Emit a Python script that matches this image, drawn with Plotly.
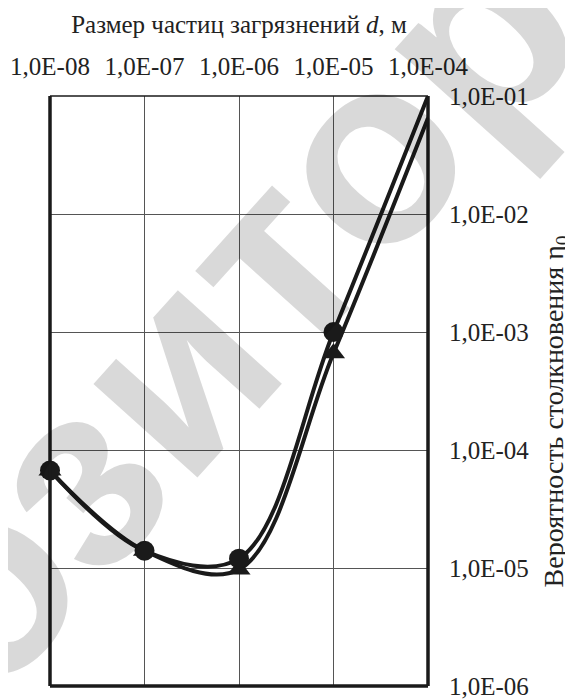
import plotly.graph_objects as go

# Data
particle_size = [1e-8, 1e-7, 1e-6, 1e-5, 1e-4]
eta_circles = [6.7e-5, 1.4e-5, 1.2e-5, 1.0e-3, 1.0e-1]
eta_triangles = [6.7e-5, 1.4e-5, 9.7e-6, 6.6e-4, 6.5e-2]

x_tickvals = [1e-8, 1e-7, 1e-6, 1e-5, 1e-4]
x_ticktext = ["1,0E-08", "1,0E-07", "1,0E-06", "1,0E-05", "1,0E-04"]
y_tickvals = [1e-6, 1e-5, 1e-4, 1e-3, 1e-2, 1e-1]
y_ticktext = ["1,0E-06", "1,0E-05", "1,0E-04", "1,0E-03", "1,0E-02", "1,0E-01"]

serif = "Liberation Serif, Times New Roman, serif"
ink = "#1a1a1a"
txt = "#222222"

fig = go.Figure()
fig.add_trace(go.Scatter(
    x=particle_size, y=eta_triangles, mode="lines+markers",
    line=dict(color=ink, width=4, shape="spline"),
    marker=dict(symbol="triangle-up", size=20, color=ink),
    cliponaxis=False, showlegend=False))
fig.add_trace(go.Scatter(
    x=particle_size, y=eta_circles, mode="lines+markers",
    line=dict(color=ink, width=4, shape="spline"),
    marker=dict(symbol="circle", size=20, color=ink),
    cliponaxis=False, showlegend=False))

# page body has an 8px default margin, so the figure is 8px smaller than the window
fig.update_layout(
    width=565, height=692,
    margin=dict(l=42, r=145, t=88, b=14),
    paper_bgcolor="white", plot_bgcolor="white",
    font=dict(family=serif, color=txt, size=24),
    xaxis=dict(
        type="log", range=[-8, -4], side="top", automargin=False,
        tickvals=x_tickvals, ticktext=x_ticktext,
        showgrid=True, gridcolor="#555555", gridwidth=1,
        zeroline=False, showline=False, ticks="", ticklabelstandoff=15,
        tickfont=dict(family=serif, size=25, color=txt),
        title=dict(text="Размер частиц загрязнений <i>d</i>, м",
                   font=dict(family=serif, size=25, color=txt),
                   standoff=12),
    ),
    yaxis=dict(
        type="log", range=[-6, -1], side="right", automargin=False,
        tickvals=y_tickvals, ticktext=y_ticktext,
        showgrid=True, gridcolor="#555555", gridwidth=1,
        zeroline=False, showline=False, ticks="", ticklabelstandoff=20,
        tickfont=dict(family=serif, size=25, color=txt),
    ),
)

# y-axis title (placed as annotation to match its offset position)
fig.add_annotation(
    text="Вероятность столкновения η<sub>0</sub>", xref="paper", yref="paper",
    x=1.338, y=0.465, xanchor="center", yanchor="middle", showarrow=False,
    textangle=-90, font=dict(family=serif, size=28, color=txt))

# frame: thick left/right/bottom, thin top
for x0, y0, x1, y1, w in [(0, 0, 0, 1, 3.5), (1, 0, 1, 1, 3.5), (0, 0, 1, 0, 3.5), (0, 1, 1, 1, 1.5)]:
    fig.add_shape(type="line", xref="paper", yref="paper", x0=x0, y0=y0, x1=x1, y1=y1,
                  line=dict(color=ink, width=w), layer="above")

# watermark
fig.add_annotation(
    text="Репозиторий", xref="paper", yref="paper",
    x=0.33, y=0.54, xanchor="center", yanchor="middle",
    showarrow=False, textangle=-48,
    font=dict(family="Liberation Sans, Arial, sans-serif", size=265, color="rgba(0,0,0,0.15)",
              weight="bold"))

fig.write_html("out.html")
